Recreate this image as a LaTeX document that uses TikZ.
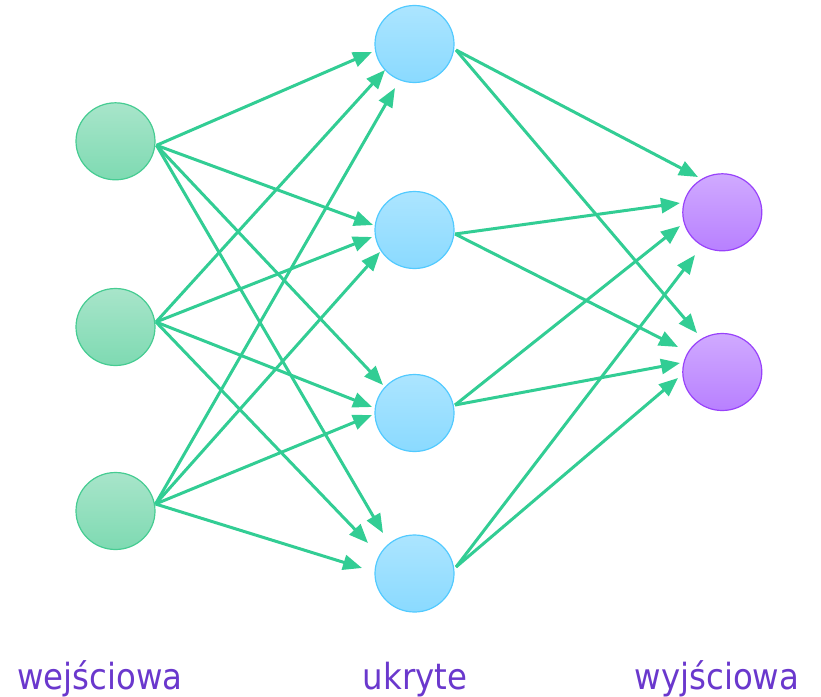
\documentclass[tikz,border=0pt]{standalone}
\usepackage{fontspec}
\newfontfamily\labelfont{DejaVu Sans Condensed}
\usetikzlibrary{calc,arrows.meta,shapes.geometric}
\definecolor{edgegreen}{RGB}{50,205,148}
\definecolor{intop}{RGB}{168,229,202}
\definecolor{inbot}{RGB}{126,218,178}
\definecolor{inborder}{RGB}{70,204,146}
\definecolor{hidtop}{RGB}{172,229,255}
\definecolor{hidbot}{RGB}{138,218,255}
\definecolor{hidborder}{RGB}{82,202,255}
\definecolor{outtop}{RGB}{208,170,255}
\definecolor{outbot}{RGB}{184,128,255}
\definecolor{outborder}{RGB}{152,66,250}
\definecolor{labelcol}{RGB}{106,56,205}
\tikzset{
  neuron/.style={ellipse, minimum width=79pt, minimum height=77pt, inner sep=0pt, line width=1.2pt},
  innode/.style={neuron, draw=inborder, top color=intop, bottom color=inbot},
  hidnode/.style={neuron, draw=hidborder, top color=hidtop, bottom color=hidbot},
  outnode/.style={neuron, draw=outborder, top color=outtop, bottom color=outbot},
  edge/.style={draw=edgegreen, line width=3pt, -{Triangle[length=19pt,width=15pt]}},
  layerlabel/.style={text=labelcol, font=\labelfont\fontsize{36}{42}\selectfont, anchor=base, inner sep=0pt}
}
\begin{document}
\begin{tikzpicture}[x=1pt,y=-1pt]
\useasboundingbox (0,0) rectangle (821,696);
% input layer
\node[innode] (i1) at (115.5,141.3) {};
\node[innode] (i2) at (115.5,327) {};
\node[innode] (i3) at (115.5,511) {};
% hidden layer
\node[hidnode] (h1) at (414.5,44) {};
\node[hidnode] (h2) at (414.5,230) {};
\node[hidnode] (h3) at (414.5,413) {};
\node[hidnode] (h4) at (414.5,573.5) {};
% output layer
\node[outnode] (o1) at (722.3,212.3) {};
\node[outnode] (o2) at (722.3,372) {};
% input -> hidden
\draw[edge] ($(i1)+(41,4)$) -- ($(h1)+(-42.5,8)$);
\draw[edge] ($(i2)+(40.5,-5)$) -- ($(h1)+(-29.5,26)$);
\draw[edge] ($(i3)+(40,-7)$) -- ($(h1)+(-19.5,44)$);
\draw[edge] ($(i1)+(41,4)$) -- ($(h2)+(-41.5,-5)$);
\draw[edge] ($(i2)+(40.5,-5)$) -- ($(h2)+(-42.5,7)$);
\draw[edge] ($(i3)+(40,-7)$) -- ($(h2)+(-34.5,22)$);
\draw[edge] ($(i1)+(41,4)$) -- ($(h3)+(-31.5,-28)$);
\draw[edge] ($(i2)+(40.5,-5)$) -- ($(h3)+(-42.5,-6)$);
\draw[edge] ($(i3)+(40,-7)$) -- ($(h3)+(-42.5,2)$);
\draw[edge] ($(i1)+(41,4)$) -- ($(h4)+(-31.5,-40.5)$);
\draw[edge] ($(i2)+(40.5,-5)$) -- ($(h4)+(-46.5,-30.5)$);
\draw[edge] ($(i3)+(40,-7)$) -- ($(h4)+(-52.5,-5.5)$);
% hidden -> output
\draw[edge] ($(h1)+(41.5,6)$) -- ($(o1)+(-24.3,-35.3)$);
\draw[edge] ($(h2)+(40.5,4)$) -- ($(o1)+(-42.3,-9.3)$);
\draw[edge] ($(h3)+(40.5,-8)$) -- ($(o1)+(-42.3,13.7)$);
\draw[edge] ($(h4)+(41.5,-6.5)$) -- ($(o1)+(-27.3,42.7)$);
\draw[edge] ($(h1)+(41.5,6)$) -- ($(o2)+(-25.3,-39)$);
\draw[edge] ($(h2)+(40.5,4)$) -- ($(o2)+(-44.3,-25)$);
\draw[edge] ($(h3)+(40.5,-8)$) -- ($(o2)+(-42.3,-9)$);
\draw[edge] ($(h4)+(41.5,-6.5)$) -- ($(o2)+(-44.3,6)$);
% labels
\node[layerlabel] (lin) at (100,689) {wejściowa};
\node[layerlabel] (lhid) at (415,689) {ukryte};
\node[layerlabel] (lout) at (717,689) {wyjściowa};
\end{tikzpicture}
\end{document}
